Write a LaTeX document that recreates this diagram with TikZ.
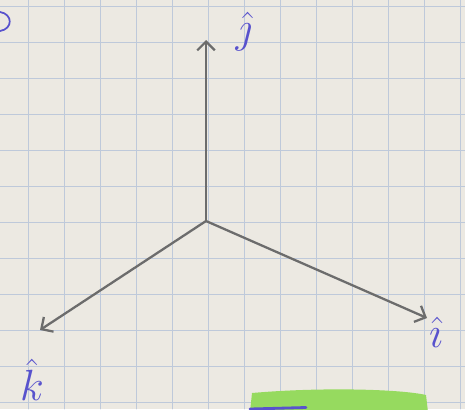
\documentclass[tikz,border=0pt]{standalone}
\usetikzlibrary{arrows.meta}
\definecolor{paper}{RGB}{236,233,226}
\definecolor{gridblue}{RGB}{190,201,218}
\definecolor{pencil}{RGB}{108,108,108}
\definecolor{ink}{RGB}{88,82,205}
\definecolor{marker}{RGB}{150,218,95}
\begin{document}
\begin{tikzpicture}[x=0.02cm,y=-0.02cm,line cap=round,line join=round,
  gridline/.style={gridblue,line width=0.5pt},
  axis/.style={pencil,line width=1.3pt,-{Straight Barb[length=5pt,width=10pt]}},
  lbl/.style={ink,font=\fontsize{27}{27}\selectfont}]
  \useasboundingbox (0,0) rectangle (465,409);
  \clip (0,0) rectangle (465,409);
  \fill[paper] (0,0) rectangle (465,409);
  % paper grid
  \foreach \x in {28,64,...,460} \draw[gridline] (\x,0) -- (\x,409);
  \foreach \y in {6,42,...,402} \draw[gridline] (0,\y) -- (465,\y);
  % bits of other notes
  \draw[ink,line width=1pt] (0,12) .. controls (13,14) and (13,29) .. (0,31);
  \fill[marker] (252,393) .. controls (320,387) and (400,389) .. (426,395)
    -- (428,412) -- (250,412) -- cycle;
  \draw[ink,line width=1.6pt] (250,409) -- (306,407.5);
  % axes
  \coordinate (O) at (206,221);
  \coordinate (J) at (206,40);
  \coordinate (I) at (427,318);
  \coordinate (K) at (40,330);
  \draw[axis] (O) -- (J);
  \draw[axis] (O) -- (I);
  \draw[axis] (O) -- (K);
  \node[lbl] (jlab) at (244,32) {$\hat{\jmath}$};
  \node[lbl] (ilab) at (436,332) {$\hat{\imath}$};
  \node[lbl] (klab) at (32,380) {$\hat{k}$};
\end{tikzpicture}
\end{document}
